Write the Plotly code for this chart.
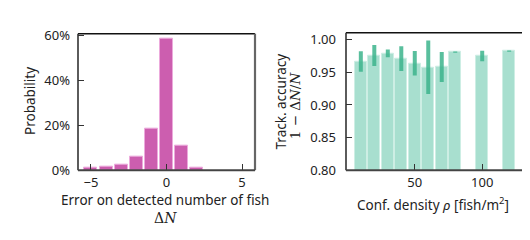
import plotly.graph_objects as go

# ---- data ----
err_values = [-5, -4, -3, -2, -1, 0, 1, 2]
err_prob = [0.011, 0.015, 0.026, 0.061, 0.185, 0.584, 0.109, 0.012]

density = [10, 20, 30, 40, 50, 60, 70, 80, 100, 120]
accuracy = [0.9667, 0.9757, 0.979, 0.971, 0.9638, 0.9576, 0.958, 0.981, 0.975, 0.9824]
acc_err = [0.0157, 0.016, 0.006, 0.019, 0.0188, 0.041, 0.023, 0.001, 0.0079, 0.001]

left_ticks = [-5, 0, 5]
left_yticks = [0, 0.2, 0.4, 0.6]
left_ylabels = ["0%", "20%", "40%", "60%"]
right_xticks = [50, 100]
right_yticks = [0.80, 0.85, 0.90, 0.95, 1.00]
right_ylabels = ["0.80", "0.85", "0.90", "0.95", "1.00"]

FONT = "Noto Sans"
MATH = "DejaVu Serif"
TXT = "#222222"

fig = go.Figure()

fig.add_trace(go.Bar(
    x=err_values, y=err_prob, width=0.86,
    marker=dict(color="#CC5EAF", line=dict(color="rgba(236,170,220,1)", width=1)),
    xaxis="x", yaxis="y", showlegend=False,
))

fig.add_trace(go.Bar(
    x=density, y=accuracy, width=8.9, base=0,
    marker=dict(color="#A8DFCF", line=dict(color="#CDEEE4", width=1)),
    error_y=dict(type="data", array=acc_err, color="rgba(60,180,140,0.85)",
                 thickness=4, width=0),
    xaxis="x2", yaxis="y2", showlegend=False,
))

ax_common = dict(showgrid=False, zeroline=False, ticks="inside", ticklen=6,
                 tickwidth=1.2, tickcolor="#333", showline=False,
                 tickfont=dict(family=FONT, size=13, color=TXT))

L0, L1 = 70 / 530, 247 / 530
R0, R1 = 338 / 530, 516 / 530
Y0, Y1 = 1 - 166 / 240, 1 - 19 / 240
Y1R = 1 - 18 / 240

fig.update_layout(
    width=530, height=240, margin=dict(l=0, r=0, t=0, b=0),
    plot_bgcolor="white", paper_bgcolor="white", bargap=0,
    xaxis=dict(domain=[L0, L1], range=[-5.86, 5.86], tickvals=left_ticks,
               ticktext=["\u22125", "0", "5"], anchor="y", ticklabelstandoff=3, **ax_common),
    yaxis=dict(domain=[Y0, Y1], range=[0, 0.608], tickvals=left_yticks,
               ticktext=left_ylabels, anchor="x", ticklabelstandoff=7, **ax_common),
    xaxis2=dict(domain=[R0, R1], range=[-1, 131], tickvals=right_xticks,
                anchor="y2", ticklabelstandoff=3, **ax_common),
    yaxis2=dict(domain=[Y0, Y1R], range=[0.80, 1.0106], tickvals=right_yticks,
                ticktext=right_ylabels, anchor="x2", ticklabelstandoff=9, **ax_common),
)

# frames
def frame(x0, x1, ytop):
    shapes = []
    y0 = Y0
    shapes.append(dict(type="line", xref="paper", yref="paper", x0=x0, x1=x1, y0=ytop, y1=ytop,
                       line=dict(color="#111", width=1.5)))
    shapes.append(dict(type="line", xref="paper", yref="paper", x0=x1, x1=x1, y0=y0, y1=ytop,
                       line=dict(color="#666", width=2.2)))
    shapes.append(dict(type="line", xref="paper", yref="paper", x0=x0, x1=x0, y0=y0, y1=ytop,
                       line=dict(color="#333", width=1.6)))
    shapes.append(dict(type="line", xref="paper", yref="paper", x0=x0, x1=x1, y0=y0, y1=y0,
                       line=dict(color="#444", width=1.8)))
    return shapes

fig.update_layout(shapes=frame(L0, L1, Y1) + frame(R0, R1, Y1R))

ann = []
def text(x, y, t, angle=0, fam=FONT, size=13.5):
    ann.append(dict(x=x / 530, y=1 - y / 240, xref="paper", yref="paper", text=t,
                    showarrow=False, textangle=angle, xanchor="center", yanchor="middle",
                    font=dict(family=fam, size=size, color=TXT)))

text(22.5, 92, "Probability", -90)
text(157, 198, "Error on detected number of fish")
text(157, 217, "\u0394<i>N</i>", fam=MATH, size=14)
text(273, 92, "Track. accuracy", -90)
text(287, 96, "1 \u2212 \u0394<i>N</i>/<i>N</i>", -90, fam=MATH, size=13.5)
text(425, 202, "Conf. density <i>\u03c1</i> [fish/m<sup>2</sup>]")

fig.update_layout(annotations=ann)

fig.write_html("out.html")
